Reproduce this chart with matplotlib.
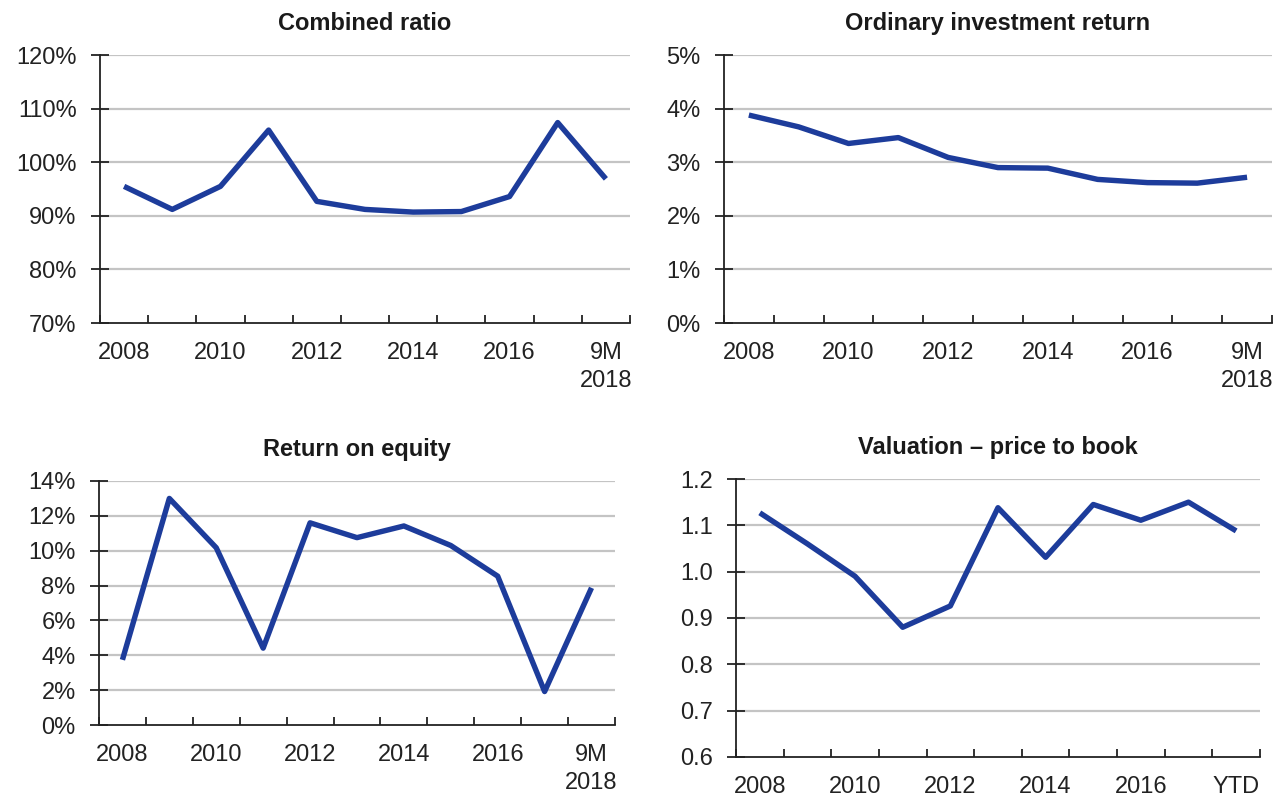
import numpy as np
import matplotlib
matplotlib.use("Agg")
from matplotlib import pyplot as plt
from matplotlib.ticker import FuncFormatter

plt.rcParams['font.family'] = ['Liberation Sans', 'DejaVu Sans']

# categories (one per year, last one partial)
categories = ['2008', '2009', '2010', '2011', '2012', '2013', '2014', '2015', '2016', '2017', '9M 2018']
labels_9m = ['2008', '2010', '2012', '2014', '2016', '9M\n2018']
labels_ytd = ['2008', '2010', '2012', '2014', '2016', 'YTD']

combined_ratio = [95.5, 91.2, 95.5, 106.0, 92.7, 91.2, 90.7, 90.8, 93.6, 107.4, 96.9]
investment_return = [3.88, 3.66, 3.35, 3.46, 3.09, 2.90, 2.89, 2.68, 2.62, 2.61, 2.72]
return_on_equity = [3.74, 13.0, 10.17, 4.41, 11.6, 10.75, 11.42, 10.3, 8.54, 1.92, 7.87]
price_to_book = [1.127, 1.06, 0.99, 0.88, 0.926, 1.138, 1.031, 1.145, 1.111, 1.15, 1.088]

LINE = '#1d3c9b'
GRID = '#c4c4c4'
TEXT = '#222222'
FS = 17


def draw_panel(ax, values, title, yticks, xlabels, pct):
    x = np.arange(len(categories))
    ax.plot(x, values, color=LINE, lw=3.9, solid_joinstyle='round',
            solid_capstyle='butt', zorder=3)
    ax.set_xlim(-0.5, len(categories) - 0.5)
    ax.set_ylim(yticks[0], yticks[-1])
    ax.set_yticks(yticks)
    if pct:
        ax.yaxis.set_major_formatter(FuncFormatter(lambda v, p: '%d%%' % round(v)))
    else:
        ax.yaxis.set_major_formatter(FuncFormatter(lambda v, p: '%.1f' % v))
    for v in yticks[1:]:
        ax.axhline(v, color=GRID, lw=1.6, zorder=1)

    # boundary ticks between categories, labels on every other category
    ax.set_xticks(np.arange(-0.5, len(categories), 1.0))
    ax.set_xticklabels([])
    ax.set_xticks(np.arange(0, len(categories), 2), minor=True)
    ax.set_xticklabels(xlabels, minor=True, fontsize=FS, color=TEXT, linespacing=1.35)
    ax.tick_params(axis='x', which='major', direction='in', length=6, width=1.3, color='#222222')
    ax.tick_params(axis='x', which='minor', length=0, pad=14)
    ax.tick_params(axis='y', direction='inout', length=13.5, width=1.3, pad=10,
                   labelsize=FS, labelcolor=TEXT, color='#222222')

    for s in ['top', 'right']:
        ax.spines[s].set_visible(False)
    for s in ['left', 'bottom']:
        ax.spines[s].set_linewidth(1.3)
        ax.spines[s].set_color('#222222')
    ax.set_title(title, fontsize=FS, fontweight='bold', color='#1a1a1a', pad=18)


fig = plt.figure(figsize=(12.82, 7.99), dpi=100)

ax1 = fig.add_axes([0.078, 0.5957, 0.4134, 0.3354])
ax2 = fig.add_axes([0.5647, 0.5957, 0.4275, 0.3354])
ax3 = fig.add_axes([0.0772, 0.0926, 0.4025, 0.3054])
ax4 = fig.add_axes([0.5741, 0.0526, 0.4087, 0.3479])

draw_panel(ax1, combined_ratio, 'Combined ratio', [70, 80, 90, 100, 110, 120], labels_9m, True)
draw_panel(ax2, investment_return, 'Ordinary investment return', [0, 1, 2, 3, 4, 5], labels_9m, True)
draw_panel(ax3, return_on_equity, 'Return on equity', [0, 2, 4, 6, 8, 10, 12, 14], labels_9m, True)
draw_panel(ax4, price_to_book, 'Valuation \u2013 price to book',
           [0.6, 0.7, 0.8, 0.9, 1.0, 1.1, 1.2], labels_ytd, False)

fig.savefig('out.png', dpi=100)
